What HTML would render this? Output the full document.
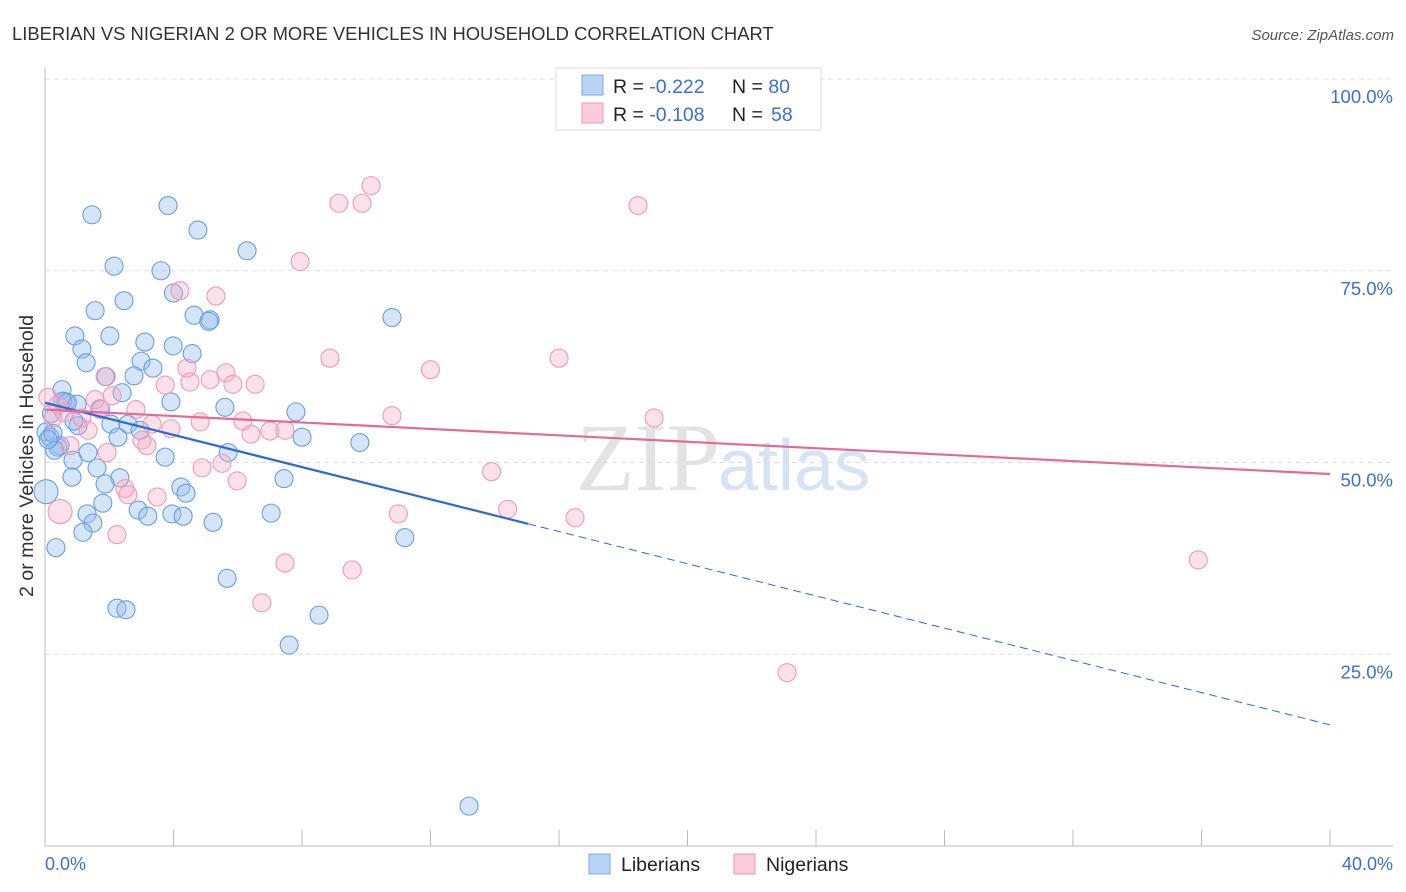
<!DOCTYPE html>
<html><head><meta charset="utf-8"><style>
body{margin:0;background:#fff;font-family:"Liberation Sans",sans-serif;}
#c{position:relative;width:1406px;height:892px;overflow:hidden;}
</style></head><body>
<div id="c">
<svg id="s" width="1406" height="892" xmlns="http://www.w3.org/2000/svg">
<text x="12" y="40" font-size="18.4" fill="#333">LIBERIAN VS NIGERIAN 2 OR MORE VEHICLES IN HOUSEHOLD CORRELATION CHART</text>
<text x="1394" y="40" font-size="15" fill="#555" font-style="italic" text-anchor="end">Source: ZipAtlas.com</text>
<text x="720" y="490" font-size="96" fill="#e3e3e3" font-family="Liberation Serif" text-anchor="end">ZIP</text>
<text x="718" y="490" font-size="72" fill="#d6e3f5">atlas</text>
<g id="grid"></g><g id="ax"></g><g id="pts"></g><g id="lines"></g>
<text transform="translate(33,456) rotate(-90)" font-size="19.6" fill="#333" text-anchor="middle">2 or more Vehicles in Household</text>
<text x="45" y="870" font-size="18" fill="#3b6fd4">0.0%</text>
<text x="1393" y="870" font-size="18" fill="#3b6fd4" text-anchor="end">40.0%</text>
<g>
<rect x="556" y="68" width="265" height="62" fill="#fff" stroke="#ddd"/>
<rect x="582" y="75" width="21" height="20" fill="#b8d3f5" stroke="#7fa8e0"/>
<rect x="582" y="103" width="21" height="20" fill="#fbcadb" stroke="#ee9ab5"/>
<text x="613" y="93" font-size="19.5" fill="#222">R = <tspan fill="#3b6fd4">-0.222</tspan><tspan x="732">N = </tspan><tspan fill="#3b6fd4">80</tspan></text>
<text x="613" y="121" font-size="19.5" fill="#222">R = <tspan fill="#3b6fd4">-0.108</tspan><tspan x="732">N = </tspan><tspan fill="#3b6fd4" x="771">58</tspan></text>
</g>
<rect x="589" y="854" width="21" height="20" fill="#b8d3f5" stroke="#7fa8e0"/>
<text x="621" y="871" font-size="19.5" fill="#222">Liberians</text>
<rect x="734" y="854" width="21" height="20" fill="#fbcadb" stroke="#ee9ab5"/>
<text x="766" y="871" font-size="19.5" fill="#222">Nigerians</text>
</svg></div>
<script>
const yTicks=[25,50,75,100];
const yTickLabels=["25.0%","50.0%","75.0%","100.0%"];
const xTicks=[0,4,8,12,16,20,24,28,32,36,40];
const libX=[1.46,3.83,4.76,6.29,2.15,3.61,4.0,2.46,1.56,4.64,5.14,5.1,10.8,0.93,2.02,3.11,3.99,1.15,4.58,2.99,1.28,3.36,1.9,2.77,0.53,2.4,3.92,0.65,5.6,7.81,1.71,2.05,0.03,2.58,1.03,2.96,2.27,0.16,8.0,9.8,0.47,1.34,5.7,0.87,3.74,1.62,2.33,0.84,7.44,1.87,4.23,4.39,0.03,1.8,2.9,3.2,3.95,4.3,7.04,1.31,5.23,1.49,1.18,11.2,0.34,5.67,2.24,2.52,8.53,7.6,13.2,0.2,0.4,0.7,0.25,0.9,0.55,1.0,0.3,0.1];
const libY=[82.3,83.5,80.3,77.6,75.6,75.0,72.1,71.1,69.8,69.2,68.6,68.4,68.9,66.5,66.5,65.7,65.2,64.8,64.2,63.2,63.0,62.3,61.2,61.3,59.5,59.1,57.9,57.9,57.2,56.6,57.0,55.0,54.0,55.0,54.8,54.2,53.3,53.3,53.3,52.6,52.2,51.3,51.3,50.3,50.7,49.3,48.0,48.1,47.9,47.2,46.8,46.0,46.2,44.7,43.8,43.0,43.3,43.0,43.4,43.3,42.2,42.1,40.9,40.2,38.9,34.9,31.0,30.8,30.1,26.2,5.2,56.4,52.0,57.8,53.8,55.4,58.0,57.6,51.6,53.0];
const nigX=[10.15,9.15,9.87,18.46,7.94,4.2,5.32,8.87,16.0,12.0,4.42,5.63,5.14,3.74,4.51,5.85,6.54,1.87,1.56,2.09,0.09,0.4,1.74,2.83,10.8,18.96,6.16,4.83,1.15,0.25,3.33,3.92,1.34,7.0,7.47,6.41,3.02,3.17,0.78,1.93,5.51,4.89,13.9,5.98,2.49,2.58,3.49,14.4,11.0,16.5,0.47,2.24,7.47,9.56,35.9,6.75,23.1,0.6];
const nigY=[86.1,83.8,83.8,83.5,76.2,72.4,71.7,63.6,63.6,62.1,62.3,61.7,60.8,60.1,60.5,60.2,60.2,61.2,58.2,58.7,58.5,57.5,56.9,56.9,56.1,55.8,55.4,55.3,55.8,55.8,55.0,54.4,54.2,54.1,54.2,53.7,52.9,52.2,52.2,51.3,49.9,49.3,48.8,47.6,46.6,45.8,45.5,43.9,43.3,42.8,43.6,40.6,36.9,36.0,37.3,31.7,22.6,56.5];
const libTrend=[57.8,-1.05];
const nigTrend=[56.9,-0.21];
const libSolidEnd=15.04;
const NS='http://www.w3.org/2000/svg';
const X=v=>45+v/40*1285;
const Y=v=>846-v/100*767;
function mk(t,a,p){const e=document.createElementNS(NS,t);for(const k in a)e.setAttribute(k,a[k]);document.getElementById(p).appendChild(e);return e;}
yTicks.forEach((t,i)=>{
 const g=mk('line',{x1:45,x2:1393,y1:Y(t),y2:Y(t),stroke:'#ddd','stroke-dasharray':'5,4'},'grid');
 
 
 const l=mk('text',{x:1393,y:Y(t)+24,'font-size':18.5,fill:'#3b6fd4','text-anchor':'end'},'grid');l.textContent=yTickLabels[i];
 
 
});
let a=mk('line',{x1:45,x2:45,y1:68,y2:846,stroke:'#bbb'},'ax');


a=mk('line',{x1:45,x2:1393,y1:846,y2:846,stroke:'#bbb'},'ax');


xTicks.forEach(t=>{const e=mk('line',{x1:X(t),x2:X(t),y1:830,y2:846,stroke:'#bbb'},'ax');
 
 });
libX.forEach((x,i)=>{const r=(x<0.1&&libY[i]<47)?12:9;const c=mk('circle',{cx:X(x),cy:Y(libY[i]),r:r,fill:'rgba(150,190,240,0.4)',stroke:'#6a9ee0','stroke-width':1.1},'pts');
 
 });
nigX.forEach((x,i)=>{const r=(x<0.5&&nigY[i]<44)?12:9;const c=mk('circle',{cx:X(x),cy:Y(nigY[i]),r:r,fill:'rgba(245,170,195,0.35)',stroke:'#ee9ab5','stroke-width':1.1},'pts');
 
 });
const lf=x=>libTrend[0]+libTrend[1]*x, nf=x=>nigTrend[0]+nigTrend[1]*x;
let t=mk('line',{x1:X(0),y1:Y(lf(0)),x2:X(libSolidEnd),y2:Y(lf(libSolidEnd)),stroke:'#2a6ad8','stroke-width':2.2},'lines');


t=mk('line',{x1:X(libSolidEnd),y1:Y(lf(libSolidEnd)),x2:X(40),y2:Y(lf(40)),stroke:'#2a6ad8','stroke-width':1,'stroke-dasharray':'8,5'},'lines');


t=mk('line',{x1:X(0),y1:Y(nf(0)),x2:X(40),y2:Y(nf(40)),stroke:'#e56a93','stroke-width':2.2},'lines');


</script>
</body></html>
